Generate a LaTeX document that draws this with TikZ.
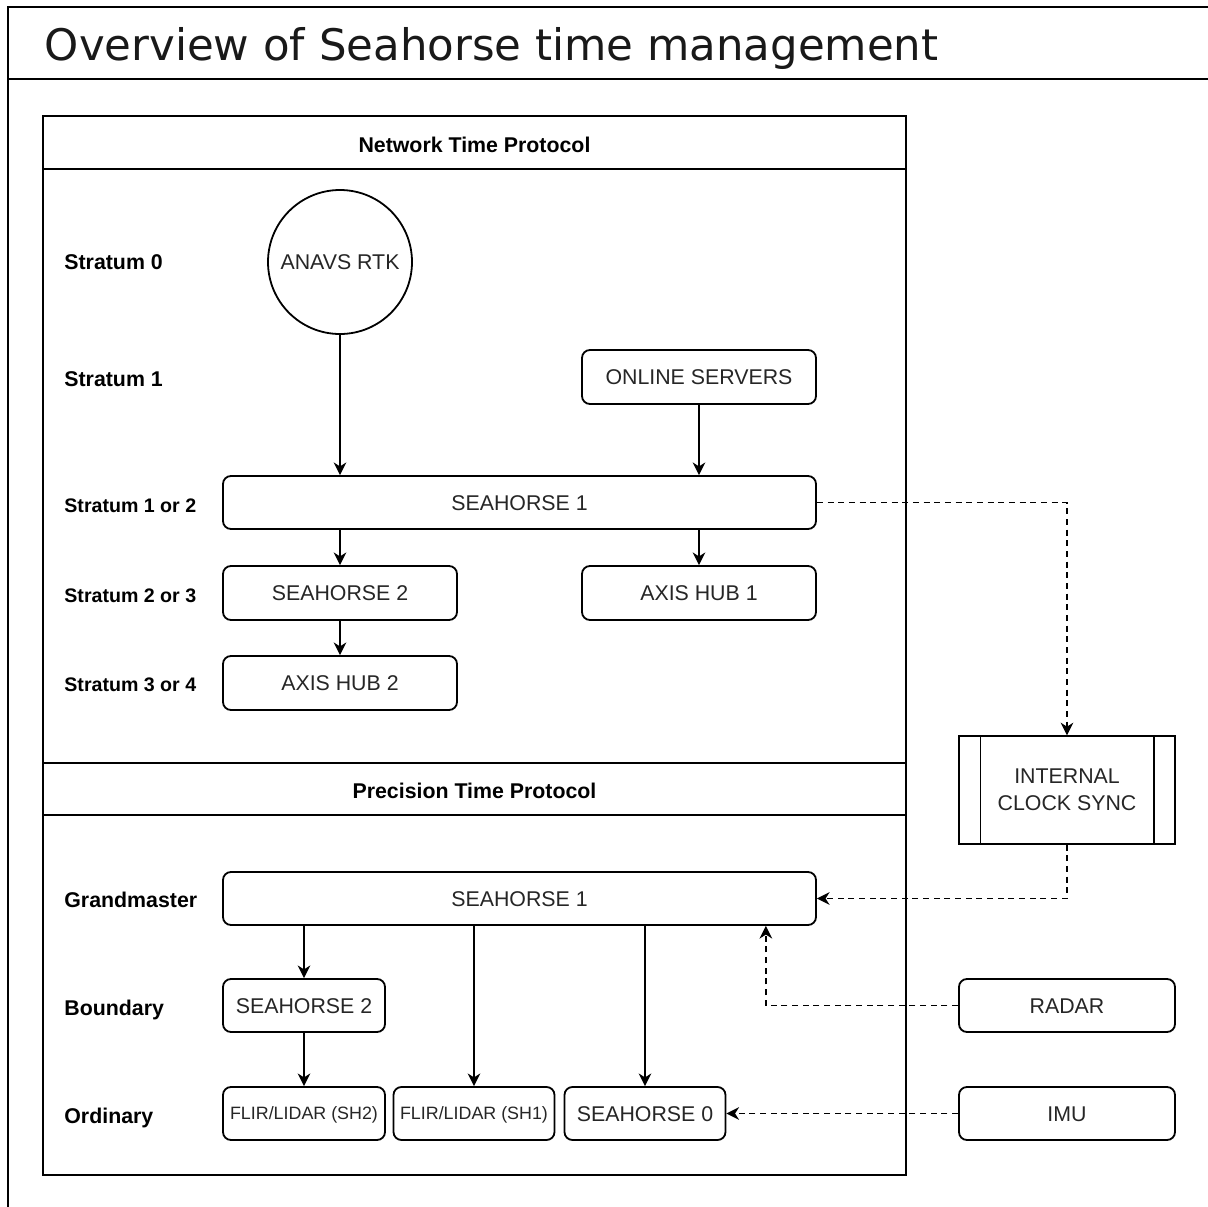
\documentclass[tikz,border=0pt]{standalone}
\usepackage{fontspec}
\setmainfont{Liberation Sans}
\newfontfamily\titlefont{DejaVu Sans}
\usetikzlibrary{arrows.meta}
\begin{document}
\begin{tikzpicture}[x=0.75pt,y=-0.75pt,line width=1.35pt,
  box/.style 2 args={draw, rounded corners=6pt, align=center, inner sep=0pt,
    minimum width=#1*0.75pt, minimum height=#2*0.75pt,
    text=black!85, font=\fontsize{16}{19.2}\selectfont, text height=11.5pt, text depth=0pt},
  smallbox/.style 2 args={box={#1}{#2}, font=\fontsize{13.4}{16}\selectfont, text height=9.6pt},
  cont/.style 2 args={draw, inner sep=0pt, minimum width=#1*0.75pt, minimum height=#2*0.75pt},
  lab/.style={anchor=west, inner sep=0pt, font=\bfseries\fontsize{16}{19.2}\selectfont, text height=11.5pt, text depth=0pt},
  labs/.style={lab, font=\bfseries\fontsize{14.7}{17.6}\selectfont, text height=10.5pt},
  head/.style={inner sep=0pt, font=\bfseries\fontsize{16}{19.2}\selectfont, text height=11.5pt, text depth=0pt},
  arr/.style={-{Stealth[length=9.5pt,width=9.5pt,inset=3pt]}},
  dsh/.style={arr, dash pattern=on 4.5pt off 3.5pt},
]
\useasboundingbox (0,0) rectangle (1208,1207);
\fill[white] (0,0) rectangle (1208,1207);

% outer frame (swimlane)
\coordinate (fbl) at (8,1210);
\coordinate (ftl) at (8,7);
\coordinate (ftr) at (1212,7);
\coordinate (fhl) at (8,79);
\coordinate (fhr) at (1212,79);
\draw (fbl) -- (ftl) -- (ftr);
\draw (fhl) -- (fhr);
\node[anchor=base west, inner sep=0pt, text=black!90, font=\titlefont\fontsize{32.6}{38}\selectfont] (title) at (44,60.5) {Overview of Seahorse time management};

% containers
\node[cont={863}{647}] (ntp) at (474.5,439.5) {};
\draw ([yshift=-40.5pt]ntp.north west) -- ([yshift=-40.5pt]ntp.north east);
\node[head] (ntpt) at (474.5,144.5) {Network Time Protocol};
\node[cont={863}{412}] (ptp) at (474.5,969) {};
\draw ([yshift=-39.75pt]ptp.north west) -- ([yshift=-39.75pt]ptp.north east);
\node[head] (ptpt) at (474.5,791) {Precision Time Protocol};

% row labels
\node[lab] (l0) at (63.5,262) {Stratum 0};
\node[lab] (l1) at (63.5,379) {Stratum 1};
\node[labs] (l12) at (63.5,505) {Stratum 1 or 2};
\node[labs] (l23) at (63.5,595) {Stratum 2 or 3};
\node[labs] (l34) at (63.5,684.5) {Stratum 3 or 4};
\node[lab] (lgm) at (63.5,900) {Grandmaster};
\node[lab] (lbd) at (63.5,1007.5) {Boundary};
\node[lab] (lor) at (63.5,1115.5) {Ordinary};

% NTP nodes
\node[circle, draw, inner sep=0pt, minimum size=144*0.75pt, text=black!85, font=\fontsize{16}{19.2}\selectfont, text height=11.5pt, text depth=0pt] (anavs) at (340,262) {ANAVS RTK};
\node[box={234}{54}] (online) at (699,377) {ONLINE SERVERS};
\node[box={593}{53}] (sh1) at (519.5,502.5) {SEAHORSE 1};
\node[box={234}{54}] (sh2) at (340,593) {SEAHORSE 2};
\node[box={234}{54}] (hub1) at (699,593) {AXIS HUB 1};
\node[box={234}{54}] (hub2) at (340,683) {AXIS HUB 2};

% internal clock sync
\node[draw, inner sep=0pt, minimum width=216*0.75pt, minimum height=107.5*0.75pt, align=center, text=black!85, font=\fontsize{16}{20.2}\selectfont] (ics) at (1067,790) {INTERNAL\\CLOCK SYNC};
\draw ([xshift=16.75pt]ics.north west) -- ([xshift=16.75pt]ics.south west);
\draw ([xshift=-16.5pt]ics.north east) -- ([xshift=-16.5pt]ics.south east);

% PTP nodes
\node[box={593}{53}] (sh1p) at (519.5,898.5) {SEAHORSE 1};
\node[box={162}{53}] (sh2p) at (304,1005.5) {SEAHORSE 2};
\node[box={216}{53}] (radar) at (1067,1005.5) {RADAR};
\node[smallbox={162}{53}] (flir2) at (304,1113.5) {FLIR/LIDAR (SH2)};
\node[smallbox={161}{53}] (flir1) at (474,1113.5) {FLIR/LIDAR (SH1)};
\node[box={161}{53}] (sh0) at (645,1113.5) {SEAHORSE 0};
\node[box={216}{53}] (imu) at (1067,1113.5) {IMU};

% NTP connectors
\draw[arr] (anavs.south) -- (anavs.south |- sh1.north);
\draw[arr] (online.south) -- (online.south |- sh1.north);
\draw[arr] (sh1.south -| sh2.north) -- (sh2.north);
\draw[arr] (sh1.south -| hub1.north) -- (hub1.north);
\draw[arr] (sh2.south) -- (hub2.north);

% dashed links
\draw[dsh] (sh1.east) -| (ics.north);
\draw[dsh] (ics.south) |- (sh1p.east);
\coordinate (radarin) at ([xshift=-38.25pt]sh1p.south east);
\draw[dsh] (radar.west) -| (radarin);
\draw[dsh] (imu.west) -- (sh0.east);

% PTP connectors
\draw[arr] (sh1p.south -| sh2p.north) -- (sh2p.north);
\draw[arr] (sh2p.south) -- (flir2.north);
\draw[arr] (sh1p.south -| flir1.north) -- (flir1.north);
\draw[arr] (sh1p.south -| sh0.north) -- (sh0.north);
\end{tikzpicture}
\end{document}
